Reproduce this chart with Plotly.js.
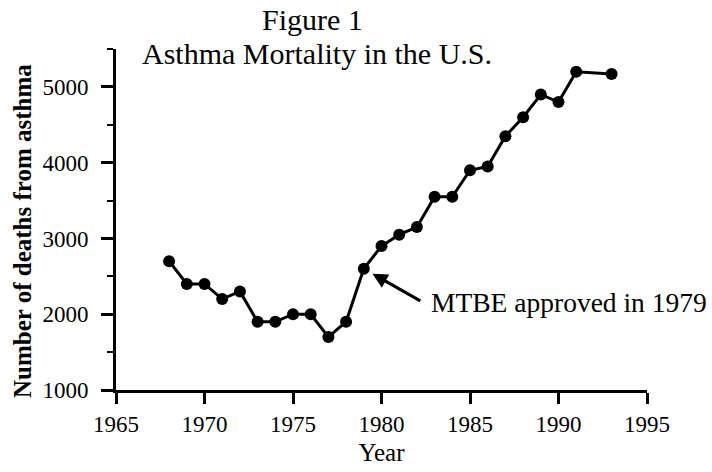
<!DOCTYPE html>
<html>
<head>
<meta charset="utf-8">
<script src="https://cdn.plot.ly/plotly-3.0.1.min.js"></script>
<style>html,body{margin:0;padding:0;background:#fff;}#chart{width:712px;height:472px;}</style>
</head>
<body>
<div id="chart"></div>
<script>
const years = [1968,1969,1970,1971,1972,1973,1974,1975,1976,1977,1978,1979,1980,1981,1982,1983,1984,1985,1986,1987,1988,1989,1990,1991,1993];
const deaths = [2700,2400,2400,2200,2300,1900,1900,2000,2000,1700,1900,2600,2900,3050,3150,3550,3550,3900,3950,4350,4600,4900,4800,5200,5170];
const xTicks = [1965,1970,1975,1980,1985,1990,1995];
const yTicks = [1000,2000,3000,4000,5000];
const titleLine1 = "Figure 1";
const titleLine2 = "Asthma Mortality in the U.S.";
const yTitle = "Number of deaths from asthma";
const xTitle = "Year";
const noteText = "MTBE approved in 1979";
const noteYear = 1979;
const noteValue = 2600;

const F = "Liberation Serif, Times New Roman, serif";
const plotL = 116, plotW = 531, plotTop = 49, plotH = 341;
const px = p => (p - plotL) / plotW;
const py = p => (plotTop + plotH - p) / plotH;

const trace = {
  x: years, y: deaths, type: 'scatter', mode: 'lines+markers',
  line: {color: '#000', width: 3},
  marker: {color: '#000', size: 12},
  hoverinfo: 'skip'
};

const layout = {
  width: 712, height: 472,
  paper_bgcolor: '#fff', plot_bgcolor: '#fff',
  margin: {l: plotL, r: 712 - plotL - plotW, t: plotTop, b: 472 - plotTop - plotH},
  showlegend: false,
  font: {family: F, color: '#000'},
  xaxis: {
    range: [1965, 1995], tickvals: xTicks, ticktext: xTicks.map(String),
    showgrid: false, zeroline: false, showline: true, linecolor: '#000', linewidth: 3,
    ticks: 'outside', ticklen: 11, tickwidth: 3, tickcolor: '#000',
    tickfont: {family: F, size: 23, color: '#000'},
    title: {text: xTitle, font: {family: F, size: 25, color: '#000'}, standoff: 8}
  },
  yaxis: {
    range: [1000, 5500], tickvals: yTicks, ticktext: yTicks.map(String),
    showgrid: false, zeroline: false, showline: true, linecolor: '#000', linewidth: 3,
    ticks: 'outside', ticklen: 12, tickwidth: 3, tickcolor: '#000',
    ticklabelstandoff: 8,
    tickfont: {family: F, size: 23, color: '#000'},
    minor: {dtick: 500, tick0: 1000, ticks: 'outside', ticklen: 6, tickwidth: 2, tickcolor: '#000', showgrid: false}
  },
  annotations: [
    {x: px(312), y: py(19), xref: 'paper', yref: 'paper', text: titleLine1, showarrow: false,
     xanchor: 'center', yanchor: 'middle', font: {family: F, size: 30, color: '#000'}},
    {x: px(317), y: py(54), xref: 'paper', yref: 'paper', text: titleLine2, showarrow: false,
     xanchor: 'center', yanchor: 'middle', font: {family: F, size: 30, color: '#000'}},
    {x: noteYear, y: noteValue, xref: 'x', yref: 'y', text: '', showarrow: true,
     ax: 58, ay: 33, arrowhead: 2, arrowsize: 1, arrowwidth: 3, arrowcolor: '#000', standoff: 10},
    {x: 1982.7, y: 2150, xref: 'x', yref: 'y', text: noteText, showarrow: false,
     xanchor: 'left', yanchor: 'middle', font: {family: F, size: 27.5, color: '#000'}},
    {x: px(22), y: py(231), xref: 'paper', yref: 'paper', text: '<b>' + yTitle + '</b>', showarrow: false,
     textangle: -90, xanchor: 'center', yanchor: 'middle', font: {family: F, size: 25, color: '#000'}}
  ]
};

Plotly.newPlot('chart', [trace], layout, {displayModeBar: false, staticPlot: true});
</script>
</body>
</html>
